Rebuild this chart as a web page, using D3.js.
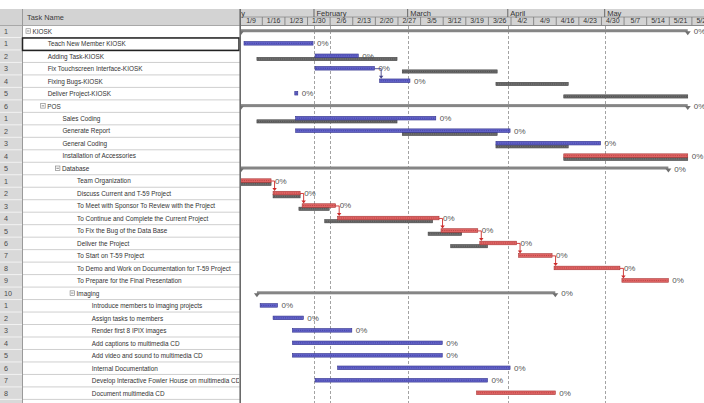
<!DOCTYPE html>
<html>
<head>
<meta charset="utf-8">
<script src="https://cdn.jsdelivr.net/npm/d3@7"></script>
<style>
  html, body { margin: 0; padding: 0; background: #fff; }
  svg { display: block; font-family: "Liberation Sans", Arial, sans-serif; }
</style>
</head>
<body>
<svg id="chart" width="704" height="403"></svg>
<script>
// ---- Project data ----
const taskNames = [
  "KIOSK",
  "Teach New Member KIOSK",
  "Adding Task-KIOSK",
  "Fix Touchscreen Interface-KIOSK",
  "Fixing Bugs-KIOSK",
  "Deliver Project-KIOSK",
  "POS",
  "Sales Coding",
  "Generate Report",
  "General Coding",
  "Installation of Accessories",
  "Database",
  "Team Organization",
  "Discuss Current and T-59 Project",
  "To Meet with Sponsor To Review with the Project",
  "To Continue and Complete the Current Project",
  "To Fix the Bug of the Data Base",
  "Deliver the Project",
  "To Start on T-59 Project",
  "To Demo and Work on Documentation for T-59 Project",
  "To Prepare for the Final Presentation",
  "Imaging",
  "Introduce members to imaging projects",
  "Assign tasks to members",
  "Render first 8 IPIX images",
  "Add captions to multimedia CD",
  "Add video and sound to multimedia CD",
  "Internal Documentation",
  "Develop Interactive Fowler House on multimedia CD",
  "Document multimedia CD"
];
const rowIds = [1,1,2,3,4,5,6,1,2,3,4,5,1,2,3,4,5,6,7,8,9,10,1,2,3,4,5,6,7,8];
const outlineLevels = [0,1,1,1,1,1,1,2,2,2,2,2,3,3,3,3,3,3,3,3,3,3,4,4,4,4,4,4,4,4];
// "summary", "task" or "critical"
const barTypes = [
  "summary","task","task","task","task","task",
  "summary","task","task","task","critical",
  "summary","critical","critical","critical","critical","critical","critical","critical","critical","critical",
  "summary","task","task","task","task","task","task","task","critical"
];
const startDates = [
  "2000-01-09","2000-01-10","2000-02-01","2000-02-01","2000-02-21","2000-01-26",
  "2000-01-09","2000-01-26","2000-01-26","2000-03-28","2000-04-18",
  "2000-01-09","2000-01-09","2000-01-19","2000-01-28","2000-02-08","2000-03-11","2000-03-23","2000-04-04","2000-04-15","2000-05-06",
  "2000-01-14","2000-01-15","2000-01-19","2000-01-25","2000-01-25","2000-01-25","2000-02-08","2000-02-01","2000-03-22"
];
const finishDates = [
  "2000-05-26","2000-01-31","2000-02-14","2000-02-19","2000-03-01","2000-01-26",
  "2000-05-26","2000-03-09","2000-04-01","2000-04-29","2000-05-26",
  "2000-05-20","2000-01-18","2000-01-27","2000-02-07","2000-03-10","2000-03-22","2000-04-03","2000-04-14","2000-05-05","2000-05-20",
  "2000-04-15","2000-01-20","2000-01-28","2000-02-12","2000-03-11","2000-03-11","2000-04-01","2000-03-25","2000-04-15"
];
const baselineStarts = [
  null,null,"2000-01-14","2000-02-28","2000-03-28","2000-04-18",
  null,"2000-01-14","2000-02-28","2000-03-28","2000-04-18",
  null,"2000-01-09","2000-01-19","2000-01-27","2000-02-04","2000-03-07","2000-03-14",null,null,null,
  null,null,null,null,null,null,null,null,null
];
const baselineFinishes = [
  null,null,"2000-02-26","2000-03-28","2000-04-19","2000-05-26",
  null,"2000-02-26","2000-03-28","2000-04-19","2000-05-26",
  null,"2000-01-18","2000-01-27","2000-02-05","2000-03-08","2000-03-17","2000-03-25",null,null,null,
  null,null,null,null,null,null,null,null,null
];
const percentComplete = new Array(taskNames.length).fill(0);
// finish-to-start dependencies [predecessor row, successor row]
const links = [[3,4],[12,13],[13,14],[14,15],[15,16],[16,17],[17,18],[18,19],[19,20]];
const statusDate = "2000-02-06";
const selectedRow = 1;
const columnTitle = "Task Name";

// ---- Layout ----
const W = 704, H = 403;
const headTop = 9, headMid = 17, headBottom = 25, rowH = 12.48;
const idW = 22, tableW = 240, chartX = 241;

const parse = d3.timeParse("%Y-%m-%d");
const x = d3.scaleTime()
  .domain([parse("2000-01-09"), parse("2000-05-28")])
  .range([239.7, 691.9]);
const startX = s => x(d3.timeHour.offset(parse(s), 8));
const endX = s => x(d3.timeHour.offset(parse(s), 17));
const rowTop = i => headBottom + i * rowH;
const rowC = i => rowTop(i) + rowH / 2;

const svg = d3.select("#chart");
const defs = svg.append("defs");
defs.append("clipPath").attr("id", "tableClip")
  .append("rect").attr("x", 0).attr("y", 0).attr("width", tableW - 1).attr("height", H);
defs.append("clipPath").attr("id", "chartClip")
  .append("rect").attr("x", chartX).attr("y", 0).attr("width", W - chartX).attr("height", H);

// ---- Task table ----
const table = svg.append("g");
table.append("rect").attr("x", 0).attr("y", headTop).attr("width", tableW).attr("height", headBottom - headTop)
  .attr("fill", "#d3d3d3");
table.append("rect").attr("x", 0).attr("y", headBottom).attr("width", idW).attr("height", H - headBottom)
  .attr("fill", "#d9d9d9");
table.append("text").attr("x", 27).attr("y", headBottom - 5.5).attr("font-size", 7.4).attr("fill", "#3a3a3a")
  .text(columnTitle);

const rows = d3.range(taskNames.length);
table.selectAll("line.rowline").data(rows).join("line")
  .attr("x1", idW).attr("x2", tableW)
  .attr("y1", i => rowTop(i + 1)).attr("y2", i => rowTop(i + 1))
  .attr("stroke", "#cfcfcf").attr("stroke-width", 1);
table.selectAll("line.idline").data(rows).join("line")
  .attr("x1", 0).attr("x2", idW)
  .attr("y1", i => rowTop(i + 1)).attr("y2", i => rowTop(i + 1))
  .attr("stroke", "#f2f2f2").attr("stroke-width", 1);
table.append("line").attr("x1", 0).attr("x2", tableW).attr("y1", headBottom + 0.5).attr("y2", headBottom + 0.5)
  .attr("stroke", "#a8a8a8");
table.append("line").attr("x1", idW + 0.5).attr("x2", idW + 0.5).attr("y1", headTop).attr("y2", H)
  .attr("stroke", "#9a9a9a");

table.selectAll("text.id").data(rows).join("text")
  .attr("x", 4).attr("y", i => rowC(i) + 2.6)
  .attr("font-size", 7.2).attr("fill", "#4a4a4a")
  .text(i => rowIds[i]);

const names = table.append("g").attr("clip-path", "url(#tableClip)");
const levelX = lv => 26 + lv * 14.7;
names.selectAll("text.name").data(rows).join("text")
  .attr("x", i => barTypes[i] === "summary" ? levelX(outlineLevels[i]) + 6.5 : levelX(outlineLevels[i]) + 7)
  .attr("y", i => rowC(i) + 2.4)
  .attr("font-size", 6.4).attr("fill", "#333")
  .text(i => taskNames[i]);

// outline toggles on summary rows
const summaryRows = rows.filter(i => barTypes[i] === "summary");
const tog = names.selectAll("g.tog").data(summaryRows).join("g")
  .attr("transform", i => `translate(${levelX(outlineLevels[i])},${rowC(i) - 2.5})`);
tog.append("rect").attr("width", 4.5).attr("height", 4.5).attr("fill", "#fff").attr("stroke", "#8a8a8a").attr("stroke-width", 0.7);
tog.append("line").attr("x1", 1).attr("x2", 3.5).attr("y1", 2.25).attr("y2", 2.25).attr("stroke", "#555").attr("stroke-width", 0.7);

// selected cell
table.append("rect").attr("x", idW + 0.5).attr("y", rowTop(selectedRow) + 0.5)
  .attr("width", tableW - idW - 1.5).attr("height", rowH)
  .attr("fill", "none").attr("stroke", "#222").attr("stroke-width", 1.5);

// splitter
svg.append("line").attr("x1", tableW + 0.2).attr("x2", tableW + 0.2).attr("y1", headTop).attr("y2", H)
  .attr("stroke", "#6a6a6a").attr("stroke-width", 1.6);

// ---- Timescale header ----
const head = svg.append("g").attr("clip-path", "url(#chartClip)");
head.append("rect").attr("x", chartX).attr("y", headTop).attr("width", W - chartX).attr("height", headBottom - headTop)
  .attr("fill", "#d3d3d3");
head.append("line").attr("x1", chartX).attr("x2", W).attr("y1", headMid).attr("y2", headMid).attr("stroke", "#8a8a8a").attr("stroke-width", 0.8);
head.append("line").attr("x1", chartX).attr("x2", W).attr("y1", headBottom + 0.5).attr("y2", headBottom + 0.5).attr("stroke", "#8a8a8a");

const months = d3.timeMonth.range(parse("2000-01-01"), parse("2000-06-01"));
const domainStart = x.domain()[0];
head.selectAll("line.mon").data(months).join("line")
  .attr("x1", d => x(d)).attr("x2", d => x(d)).attr("y1", headTop).attr("y2", headMid)
  .attr("stroke", "#666").attr("stroke-width", 1);
head.selectAll("text.mon").data(months).join("text")
  .attr("x", d => d < domainStart ? chartX + 4 : x(d) + 2.5)
  .attr("text-anchor", d => d < domainStart ? "end" : "start")
  .attr("y", headMid - 1.5)
  .attr("font-size", 7.5).attr("fill", "#333")
  .text(d => d3.timeFormat("%B")(d));

const weeks = d3.timeSunday.range(parse("2000-01-02"), parse("2000-06-01"));
head.selectAll("line.wk").data(weeks).join("line")
  .attr("x1", d => x(d)).attr("x2", d => x(d)).attr("y1", headMid).attr("y2", headBottom)
  .attr("stroke", "#777").attr("stroke-width", 0.8);
head.selectAll("text.wk").data(weeks).join("text")
  .attr("x", d => (x(d) + x(d3.timeWeek.offset(d, 1))) / 2)
  .attr("text-anchor", "middle")
  .attr("y", headBottom - 2)
  .attr("font-size", 7).attr("fill", "#333")
  .text(d => d3.timeFormat("%-m/%-d")(d));

// ---- Gantt area ----
const gantt = svg.append("g").attr("clip-path", "url(#chartClip)");

// month boundaries and status date
const gridDates = months.filter(d => d > domainStart).concat([parse(statusDate)]);
gantt.selectAll("line.grid").data(gridDates).join("line")
  .attr("x1", d => Math.round(x(d)) + 0.5).attr("x2", d => Math.round(x(d)) + 0.5)
  .attr("y1", headBottom + 1).attr("y2", H)
  .attr("stroke", "#8c8c8c").attr("stroke-width", 0.8).attr("stroke-dasharray", "3,2");

const palette = {
  task: { fill: "#6363c9", stroke: "#30308a", dots: "#383894" },
  critical: { fill: "#e06464", stroke: "#a83434", dots: "#a83a3a" },
  baseline: { fill: "#6e6e6e", stroke: "#3e3e3e", dots: "#444" }
};

function drawBar(g, x0, x1, yTop, h, pal) {
  g.append("rect").attr("x", x0).attr("y", yTop).attr("width", Math.max(0.5, x1 - x0)).attr("height", h)
    .attr("fill", pal.fill).attr("stroke", pal.stroke).attr("stroke-width", 0.6);
  g.append("line").attr("x1", x0 + 1).attr("x2", x1 - 1).attr("y1", yTop + h / 2).attr("y2", yTop + h / 2)
    .attr("stroke", pal.dots).attr("stroke-width", 0.7).attr("stroke-dasharray", "1,1.2");
}

// baselines (drawn first, just below the scheduled bars)
rows.forEach(i => {
  if (!baselineStarts[i]) return;
  drawBar(gantt, startX(baselineStarts[i]), endX(baselineFinishes[i]), rowC(i) + 1.2, 3.2, palette.baseline);
});

// scheduled bars
rows.forEach(i => {
  const type = barTypes[i];
  const xs = startX(startDates[i]), xe = endX(finishDates[i]);
  const yc = rowC(i);
  if (type === "summary") {
    gantt.append("rect").attr("x", xs).attr("y", yc - 2).attr("width", xe - xs).attr("height", 3)
      .attr("fill", "#858585");
    [xs, xe].forEach(px => {
      gantt.append("path")
        .attr("d", `M${px - 3},${yc} L${px + 3},${yc} L${px},${yc + 4} Z`)
        .attr("fill", "#707070");
    });
    gantt.append("text").attr("x", xe + 6).attr("y", yc + 3)
      .attr("font-size", 8).attr("fill", "#555").text(percentComplete[i] + "%");
  } else {
    const pal = palette[type];
    let a = xs, b = xe;
    if (b - a < 3) { const m = (a + b) / 2; a = m - 1.5; b = m + 1.5; }
    drawBar(gantt, a, b, yc - 2.2, 3.6, pal);
    gantt.append("text").attr("x", b + 4).attr("y", yc + 2.5)
      .attr("font-size", 8).attr("fill", "#555").text(percentComplete[i] + "%");
  }
});

// dependency arrows
links.forEach(([p, s]) => {
  const xe = endX(finishDates[p]);
  const xs = startX(startDates[s]);
  const xv = Math.max(xs + 1.5, xe + 1.5);
  const y0 = rowC(p), y1 = rowC(s) - 2.4;
  const col = barTypes[p] === "critical" && barTypes[s] === "critical" ? "#cc2a2a" : "#44448a";
  gantt.append("path").attr("d", `M${xe},${y0} H${xv} V${y1 - 2.5}`)
    .attr("fill", "none").attr("stroke", col).attr("stroke-width", 0.9);
  gantt.append("path").attr("d", `M${xv - 2.2},${y1 - 3} L${xv + 2.2},${y1 - 3} L${xv},${y1} Z`)
    .attr("fill", col);
});
</script>
</body>
</html>
